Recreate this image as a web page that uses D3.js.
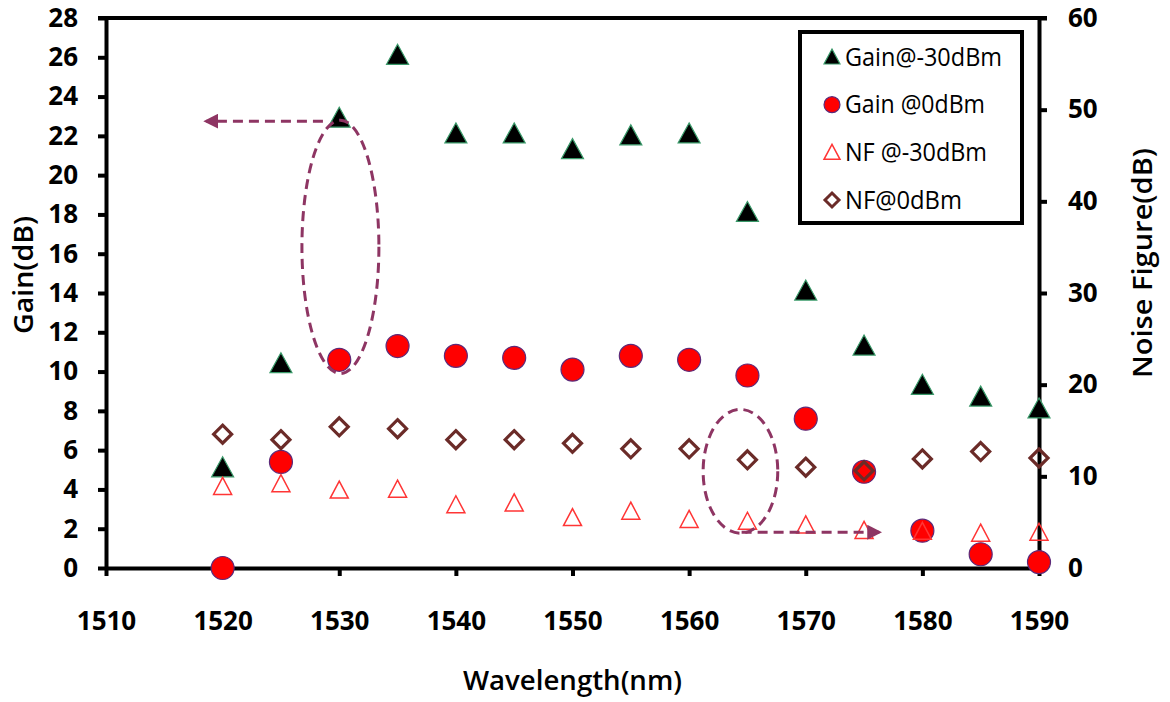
<!DOCTYPE html>
<html>
<head>
<meta charset="utf-8">
<script src="https://cdn.jsdelivr.net/npm/d3@7"></script>
<style>
  body { margin: 0; background: #fff; }
  svg { font-family: "Open Sans", sans-serif; }
</style>
</head>
<body>
<div id="chart"></div>
<script>
// Data
const wavelength = [1520, 1525, 1530, 1535, 1540, 1545, 1550, 1555, 1560, 1565, 1570, 1575, 1580, 1585, 1590];
const gainLow  = [5.1, 10.4, 22.9, 26.1, 22.1, 22.1, 21.3, 22.0, 22.1, 18.1, 14.1, 11.3, 9.3, 8.7, 8.1];
const gainHigh = [0, 5.4, 10.6, 11.3, 10.8, 10.7, 10.1, 10.8, 10.6, 9.8, 7.6, 4.9, 1.9, 0.7, 0.3];
const nfLow    = [8.9, 9.2, 8.5, 8.6, 6.9, 7.1, 5.5, 6.2, 5.3, 5.1, 4.7, 4.1, 4.0, 3.8, 3.9];
const nfHigh   = [14.6, 14.0, 15.4, 15.2, 14.0, 14.0, 13.6, 13.0, 13.0, 11.8, 11.0, 10.6, 11.9, 12.7, 12.0];

const xTicks = [1510, 1520, 1530, 1540, 1550, 1560, 1570, 1580, 1590];
const gainTicks = d3.range(0, 29, 2);
const nfTicks = [0, 10, 20, 30, 40, 50, 60];

const legendLabels = ["Gain@-30dBm", "Gain @0dBm", "NF @-30dBm", "NF@0dBm"];

const width = 1170, height = 702;
const plotLeft = 106, plotRight = 1039, plotTop = 18, plotBottom = 568;

const svg = d3.select("#chart").append("svg")
    .attr("width", width)
    .attr("height", height);

const x = d3.scaleLinear().domain([1510, 1590]).range([plotLeft, plotRight]);
const yGain = d3.scaleLinear().domain([0, 28]).range([plotBottom, plotTop]);
const yNF = d3.scaleLinear().domain([0, 60]).range([plotBottom, plotTop]);

// arrow head for the dashed annotations
svg.append("defs").append("marker")
    .attr("id", "head")
    .attr("viewBox", "0 0 10 10")
    .attr("refX", 8).attr("refY", 5)
    .attr("markerWidth", 5).attr("markerHeight", 5)
    .attr("markerUnits", "strokeWidth")
    .attr("orient", "auto")
  .append("path")
    .attr("d", "M0,0 L10,5 L0,10 z")
    .attr("fill", "#8e3563");

// top border of the plot area
svg.append("line")
    .attr("x1", plotLeft - 8).attr("x2", plotRight + 8)
    .attr("y1", plotTop).attr("y2", plotTop)
    .attr("stroke", "#000").attr("stroke-width", 4);

function styleAxis(g) {
    g.select(".domain").attr("stroke", "#000").attr("stroke-width", 4);
    g.selectAll(".tick line").attr("stroke", "#000").attr("stroke-width", 4);
    g.selectAll(".tick text")
        .attr("fill", "#000")
        .attr("font-family", null)
        .attr("font-size", null)
        .style("font-size", "26px")
        .style("font-weight", "700");
}

svg.append("g")
    .attr("transform", `translate(0,${plotBottom})`)
    .call(d3.axisBottom(x).tickValues(xTicks).tickSize(8).tickSizeOuter(0).tickPadding(36).tickFormat(d3.format("d")))
    .call(styleAxis);

svg.append("g")
    .attr("transform", `translate(${plotLeft},0)`)
    .call(d3.axisLeft(yGain).tickValues(gainTicks).tickSize(8).tickSizeOuter(0).tickPadding(20))
    .call(styleAxis);

svg.append("g")
    .attr("transform", `translate(${plotRight},0)`)
    .call(d3.axisRight(yNF).tickValues(nfTicks).tickSize(8).tickSizeOuter(0).tickPadding(21))
    .call(styleAxis);

svg.selectAll("g").attr("font-family", null).attr("font-size", null);

// axis titles
svg.append("text")
    .attr("x", (plotLeft + plotRight) / 2).attr("y", 690)
    .attr("text-anchor", "middle")
    .attr("textLength", 219).attr("lengthAdjust", "spacingAndGlyphs")
    .style("font-size", "27px").style("font-weight", "600")
    .text("Wavelength(nm)");

svg.append("text")
    .attr("transform", "translate(33,275) rotate(-90)")
    .attr("text-anchor", "middle")
    .attr("textLength", 118).attr("lengthAdjust", "spacingAndGlyphs")
    .style("font-size", "27px").style("font-weight", "600")
    .text("Gain(dB)");

svg.append("text")
    .attr("transform", "translate(1152,263) rotate(-90)")
    .attr("text-anchor", "middle")
    .attr("textLength", 230).attr("lengthAdjust", "spacingAndGlyphs")
    .style("font-size", "27px").style("font-weight", "600")
    .text("Noise Figure(dB)");

// marker shapes
const diamond = "M0,-9 L9,0 L0,9 L-9,0 Z";

// series, in Excel's drawing order
const plot = svg.append("g");

plot.selectAll(".gl").data(wavelength).join("path")
    .attr("transform", (d, i) => `translate(${x(d)},${yGain(gainLow[i])})`)
    .attr("d", "M0,-11 L11,9 L-11,9 Z")
    .attr("fill", "#000").attr("stroke", "#3a9a6a").attr("stroke-width", 1.2);

plot.selectAll(".gh").data(wavelength).join("circle")
    .attr("cx", d => x(d))
    .attr("cy", (d, i) => yGain(gainHigh[i]))
    .attr("r", 11.5)
    .attr("fill", "#ff0000").attr("stroke", "#5b2a7a").attr("stroke-width", 1.2);

plot.selectAll(".nl").data(wavelength).join("path")
    .attr("transform", (d, i) => `translate(${x(d)},${yNF(nfLow[i])})`)
    .attr("d", "M0,-9 L9,8 L-9,8 Z")
    .attr("fill", "none").attr("stroke", "#ff3535").attr("stroke-width", 1.5);

plot.selectAll(".nh").data(wavelength).join("path")
    .attr("transform", (d, i) => `translate(${x(d)},${yNF(nfHigh[i])})`)
    .attr("d", diamond)
    .attr("fill", "none").attr("stroke", "#6b2b28").attr("stroke-width", 3.2);

// dashed annotations (data units)
const noteColor = "#8e3563";
const ann = svg.append("g")
    .attr("fill", "none")
    .attr("stroke", noteColor)
    .attr("stroke-width", 3)
    .attr("stroke-dasharray", "10,6");

// ellipse round the 1530 nm gain pair, arrow to the gain axis
ann.append("ellipse")
    .attr("cx", x(1530.1))
    .attr("cy", (yGain(22.8) + yGain(9.9)) / 2)
    .attr("rx", x(1533.3) - x(1530))
    .attr("ry", (yGain(9.9) - yGain(22.8)) / 2);
ann.append("line")
    .attr("x1", x(1528.6)).attr("x2", x(1518.6))
    .attr("y1", yGain(22.75)).attr("y2", yGain(22.75))
    .attr("marker-end", "url(#head)");

// ellipse round the 1565 nm NF pair, arrow to the NF axis
ann.append("ellipse")
    .attr("cx", x(1564.4))
    .attr("cy", (yNF(17.3) + yNF(3.8)) / 2)
    .attr("rx", x(1567.6) - x(1564.4))
    .attr("ry", (yNF(3.8) - yNF(17.3)) / 2);
ann.append("line")
    .attr("x1", x(1564.5)).attr("x2", x(1576.3))
    .attr("y1", yNF(3.9)).attr("y2", yNF(3.9))
    .attr("marker-end", "url(#head)");

// legend
const legend = svg.append("g");
legend.append("rect")
    .attr("x", 800).attr("y", 32)
    .attr("width", 222).attr("height", 191)
    .attr("fill", "#fff").attr("stroke", "#000").attr("stroke-width", 4);

const legendShapes = [
    { d: "M0,-8 L8,7 L-8,7 Z", fill: "#000", stroke: "#3a9a6a", sw: 1.2 },
    { d: d3.symbol().type(d3.symbolCircle).size(200)(), fill: "#ff0000", stroke: "#5b2a7a", sw: 1.2 },
    { d: "M0,-8 L8,7 L-8,7 Z", fill: "none", stroke: "#ff3535", sw: 1.5 },
    { d: "M0,-7 L7,0 L0,7 L-7,0 Z", fill: "none", stroke: "#6b2b28", sw: 3 }
];
const legendWidths = [157, 140, 142, 117];
const rowY = d3.scalePoint().domain(legendLabels).range([57, 200]);

legendLabels.forEach((label, i) => {
    const s = legendShapes[i];
    legend.append("path")
        .attr("transform", `translate(832,${rowY(label)})`)
        .attr("d", s.d)
        .attr("fill", s.fill).attr("stroke", s.stroke).attr("stroke-width", s.sw);
    legend.append("text")
        .attr("x", 845).attr("y", rowY(label))
        .attr("dy", "0.35em")
        .attr("textLength", legendWidths[i]).attr("lengthAdjust", "spacingAndGlyphs")
        .style("font-size", "25px")
        .text(label);
});
</script>
</body>
</html>
